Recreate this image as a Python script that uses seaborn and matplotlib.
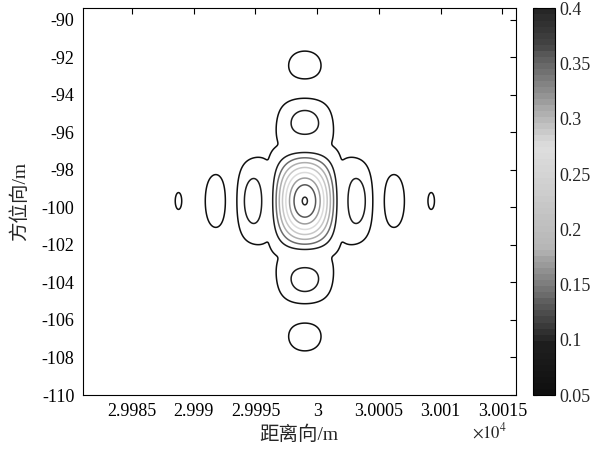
import numpy as np
import matplotlib
matplotlib.use("Agg")
import matplotlib.pyplot as plt
from matplotlib.colors import ListedColormap, Normalize
from matplotlib.cm import ScalarMappable
import seaborn as sns

# point target response, parameters
target_range = 29999.0      # m, peak position (range)
target_azimuth = -99.66     # m, peak position (azimuth)
peak_value = 0.395
res_range = 2.95            # m, lobe spacing in range
res_azimuth = 2.95          # m, lobe spacing in azimuth
power_range = 0.85
power_azimuth = 0.88
null_fill = 0.199
null_fill_width = 3.49

contour_levels = [0.05, 0.09375, 0.1375, 0.18125, 0.225, 0.26875, 0.3125, 0.35625, 0.4]
cbar_ticks = [0.05, 0.1, 0.15, 0.2, 0.25, 0.3, 0.35, 0.4]
x_ticks = [29985, 29990, 29995, 30000, 30005, 30010, 30015]
x_tick_labels = ["2.9985", "2.999", "2.9995", "3", "3.0005", "3.001", "3.0015"]
y_ticks = [-110, -108, -106, -104, -102, -100, -98, -96, -94, -92, -90]

# grid
xs = np.linspace(29981, 30016.1, 701)
ys = np.linspace(-110, -89.4, 413)
X, Y = np.meshgrid(xs, ys)
u = (X - target_range) / res_range
v = (Y - target_azimuth) / res_azimuth
S = np.abs(np.sinc(u)) ** power_range * np.abs(np.sinc(v)) ** power_azimuth
D = null_fill * np.exp(-(u ** 2 + v ** 2) / null_fill_width)
Z = peak_value * np.sqrt(S ** 2 + D ** 2)

# jet shown in grayscale
jet = plt.get_cmap("jet")(np.linspace(0, 1, 64))
lum = 0.2989 * jet[:, 0] + 0.587 * jet[:, 1] + 0.114 * jet[:, 2]
gray_jet = ListedColormap(np.column_stack([lum, lum, lum]))
norm = Normalize(vmin=0.05, vmax=0.4)

sns.set_style("white")
plt.rcParams["font.family"] = ["Liberation Serif", "Noto Sans CJK SC"]
plt.rcParams["mathtext.fontset"] = "stix"
plt.rcParams["axes.unicode_minus"] = False

fig = plt.figure(figsize=(5.95, 4.5), dpi=100)
ax = fig.add_axes([0.139, 0.1222, 0.728, 0.859])
cax = fig.add_axes([0.895, 0.1222, 0.0375, 0.859])

ax.contour(X, Y, Z, levels=contour_levels, cmap=gray_jet, norm=norm, linewidths=1.1)

ax.set_xlim(29981, 30016.1)
ax.set_ylim(-110, -89.4)
ax.set_xticks(x_ticks)
ax.set_xticklabels(x_tick_labels)
ax.set_yticks(y_ticks)
ax.tick_params(direction="in", top=True, right=True, length=4, width=0.8,
               labelsize=13, colors="black", pad=6)
for sp in ax.spines.values():
    sp.set_color("black")
    sp.set_linewidth(0.8)
ax.set_xlabel("距离向/m", fontsize=14, labelpad=4)
ax.set_ylabel("方位向/m", fontsize=14, labelpad=9)
ax.text(0.98, -0.097, r"$\times10^{4}$", transform=ax.transAxes, fontsize=12,
        ha="right", va="center")

cb = fig.colorbar(ScalarMappable(norm=norm, cmap=gray_jet), cax=cax, ticks=cbar_ticks)
cb.ax.set_yticklabels(["0.05", "0.1", "0.15", "0.2", "0.25", "0.3", "0.35", "0.4"])
cb.ax.tick_params(direction="in", left=True, right=True, length=3, width=0.8,
                  labelsize=13, pad=3)
cb.outline.set_edgecolor("black")
cb.outline.set_linewidth(0.8)

fig.savefig("out.png", dpi=100)
